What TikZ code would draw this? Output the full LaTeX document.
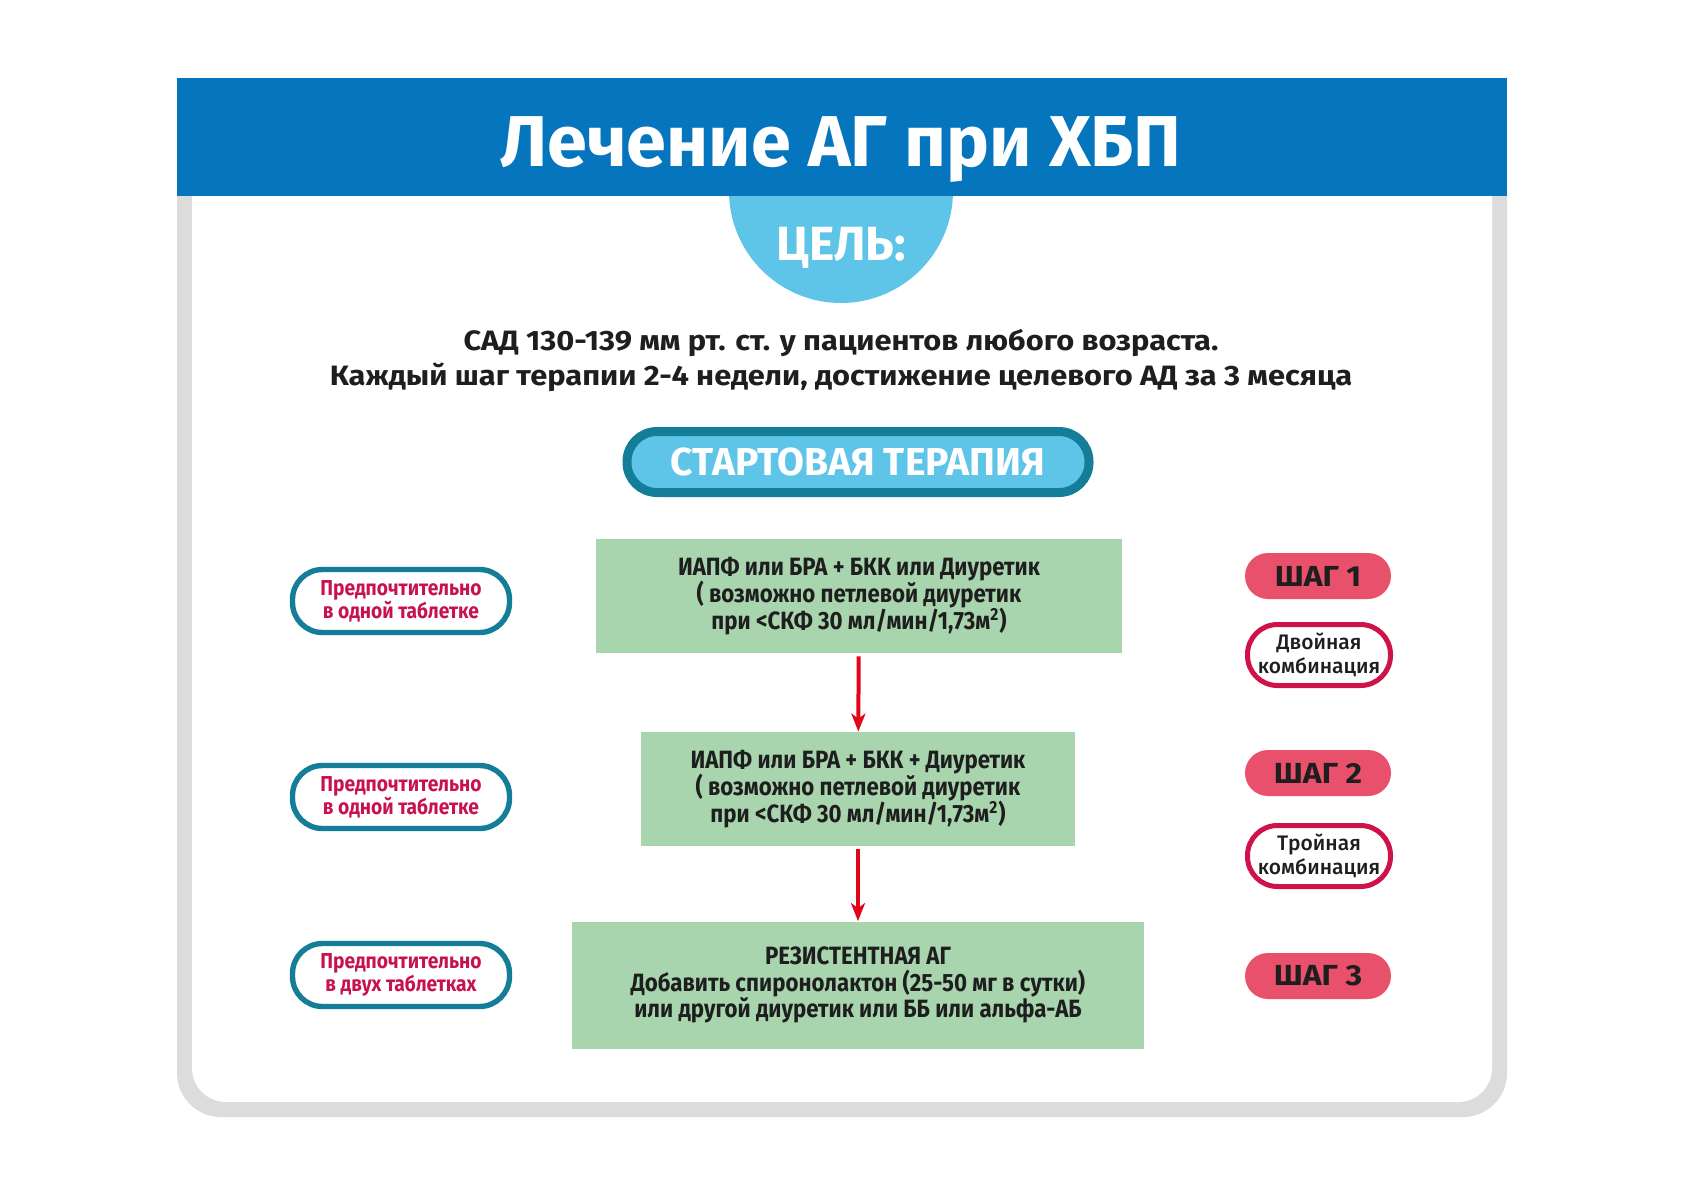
\documentclass[tikz,border=0pt]{standalone}
\usepackage{fontspec}
\setmainfont{Fira Sans}
\newfontfamily\narrowfont{Fira Sans}[FakeStretch=0.89]
\newfontfamily\widefont{Fira Sans}[FakeStretch=1.1]
\newfontfamily\mediumfont{Fira Sans Medium}
\newcommand\tightlines{\lineskiplimit -20pt\relax}
\usetikzlibrary{arrows.meta}

\definecolor{hdrblue}{HTML}{0575BE}
\definecolor{goalblue}{HTML}{5EC5E8}
\definecolor{framegray}{HTML}{DCDCDC}
\definecolor{pillteal}{HTML}{147E98}
\definecolor{boxgreen}{HTML}{A8D5AE}
\definecolor{arrowred}{HTML}{E2061B}
\definecolor{textcrimson}{HTML}{C8124F}
\definecolor{steppink}{HTML}{E9506C}
\definecolor{combored}{HTML}{D0124A}
\definecolor{inkdark}{HTML}{1E1E1E}

\begin{document}
\begin{tikzpicture}[x=0.5pt,y=-0.5pt,
  every node/.style={text=inkdark},
  greenbox/.style={fill=boxgreen,align=center,inner sep=0pt,
    font=\narrowfont\bfseries\fontsize{12.5}{13.4}\selectfont\tightlines},
  startpill/.style={draw=pillteal,line width=4.5pt,fill=goalblue,rounded corners=15pt,
    minimum width=231pt,minimum height=30.5pt,inner sep=0pt,text=white,
    font=\bfseries\fontsize{19.5}{19.5}\selectfont},
  prefpill/.style={draw=pillteal,line width=2.7pt,fill=white,rounded corners=15pt,
    minimum width=108.5pt,minimum height=31.5pt,inner sep=0pt,align=center,
    text=textcrimson,font=\narrowfont\bfseries\fontsize{10.8}{11.3}\selectfont},
  steppill/.style={fill=steppink,rounded corners=11.5pt,minimum width=73pt,
    minimum height=23pt,inner sep=0pt,font=\widefont\bfseries\fontsize{14.5}{14.5}\selectfont},
  combopill/.style={draw=combored,line width=2.5pt,fill=white,rounded corners=15pt,
    minimum width=71.5pt,minimum height=30.5pt,inner sep=0pt,align=center,
    font=\mediumfont\fontsize{10.5}{12.3}\selectfont},
  flow/.style={arrowred,line width=2pt,shorten <=1.5pt,-{Stealth[length=9pt,width=7pt,inset=2.5pt]}}]
  \useasboundingbox (0,0) rectangle (1683,1190);
  % frame, goal circle and header
  \fill[framegray,rounded corners=22pt] (177,78) rectangle (1507,1117);
  \fill[white,rounded corners=17pt] (192,90) rectangle (1492,1102);
  \node[circle,fill=goalblue,minimum size=112pt,inner sep=0pt] (goalbg) at (841,191) {};
  \fill[hdrblue] (177,78) rectangle (1507,196);
  \node[anchor=base,text=white,font=\bfseries\fontsize{36}{36}\selectfont] (title) at (841,166) {Лечение АГ при ХБП};
  \node[anchor=base,text=white,font=\bfseries\fontsize{24}{24}\selectfont] (goal) at (841,260) {ЦЕЛЬ:};
  \node[anchor=base,font=\widefont\bfseries\fontsize{14}{14}\selectfont] (sad) at (841,350) {САД 130-139 мм рт. ст. у пациентов любого возраста.};
  \node[anchor=base,font=\widefont\bfseries\fontsize{14}{14}\selectfont] (term) at (841,385) {Каждый шаг терапии 2-4 недели, достижение целевого АД за 3 месяца};
  \node[startpill] (start) at (858,462) {СТАРТОВАЯ ТЕРАПИЯ};
  % therapy steps
  \node[greenbox,minimum width=263pt,minimum height=57pt] (box1) at (859,596) {ИАПФ или БРА + БКК или Диуретик\\( возможно петлевой диуретик\\при <СКФ 30 мл/мин/1,73м\textsuperscript{2})};
  \node[greenbox,minimum width=217pt,minimum height=57pt] (box2) at (858,789) {ИАПФ или БРА + БКК + Диуретик\\( возможно петлевой диуретик\\при <СКФ 30 мл/мин/1,73м\textsuperscript{2})};
  \node[greenbox,minimum width=286pt,minimum height=63.5pt] (box3) at (858,985) {РЕЗИСТЕНТНАЯ АГ\\Добавить спиронолактон (25-50 мг в сутки)\\или другой диуретик или ББ или альфа-АБ};
  \draw[flow] (box1) -- (box2);
  \draw[flow] (box2) -- (box3);
  % left notes
  \node[prefpill] (pref1) at (401,601) {Предпочтительно\\в одной таблетке};
  \node[prefpill] (pref2) at (401,797) {Предпочтительно\\в одной таблетке};
  \node[prefpill] (pref3) at (401,975) {Предпочтительно\\в двух таблетках};
  % right labels
  \node[steppill] (step1) at (1318,576) {ШАГ 1};
  \node[combopill] (combo1) at (1319,655) {Двойная\\комбинация};
  \node[steppill] (step2) at (1318,773) {ШАГ 2};
  \node[combopill] (combo2) at (1319,856) {Тройная\\комбинация};
  \node[steppill] (step3) at (1318,976) {ШАГ 3};
\end{tikzpicture}
\end{document}
